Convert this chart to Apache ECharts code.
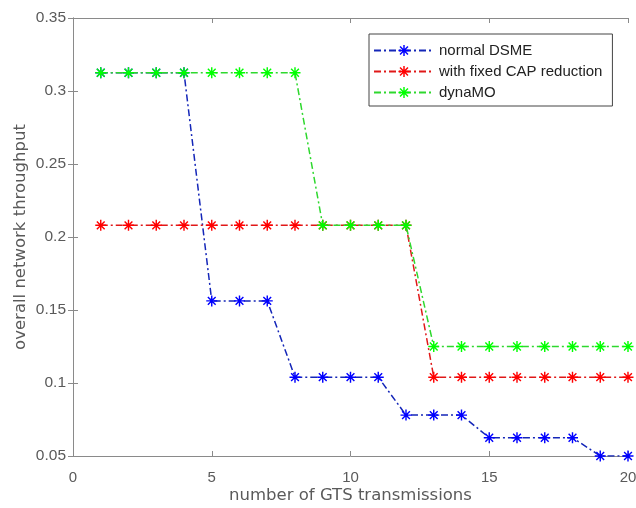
<!DOCTYPE html>
<html>
<head>
<meta charset="utf-8">
<script src="https://cdn.jsdelivr.net/npm/echarts@6/dist/echarts.min.js"></script>
<style>html,body{margin:0;padding:0;background:#fff;}#c{width:636px;height:508px;}</style>
</head>
<body>
<div id="c"></div>
<script>
var xValues = [1,2,3,4,5,6,7,8,9,10,11,12,13,14,15,16,17,18,19,20];
var normalDSME = [0.3125,0.3125,0.3125,0.3125,0.15625,0.15625,0.15625,0.104,0.104,0.104,0.104,0.078,0.078,0.078,0.0625,0.0625,0.0625,0.0625,0.05,0.05];
var fixedCAP = [0.208,0.208,0.208,0.208,0.208,0.208,0.208,0.208,0.208,0.208,0.208,0.208,0.104,0.104,0.104,0.104,0.104,0.104,0.104,0.104];
var dynaMO = [0.3125,0.3125,0.3125,0.3125,0.3125,0.3125,0.3125,0.3125,0.208,0.208,0.208,0.208,0.125,0.125,0.125,0.125,0.125,0.125,0.125,0.125];
var seriesNames = ['normal DSME','with fixed CAP reduction','dynaMO'];
var xTicks = [0,5,10,15,20];
var yTicks = [0.05,0.1,0.15,0.2,0.25,0.3,0.35];

var hw = 1.3;
var star = 'path://' +
  'M-' + hw + ',-10 L' + hw + ',-10 L' + hw + ',10 L-' + hw + ',10 Z ' +
  'M-10,-' + hw + ' L10,-' + hw + ' L10,' + hw + ' L-10,' + hw + ' Z ' +
  'M-6.15,-7.99 L7.99,6.15 L6.15,7.99 L-7.99,-6.15 Z ' +
  'M6.15,-7.99 L7.99,-6.15 L-6.15,7.99 L-7.99,6.15 Z';

function pairs(ys){ return xValues.map(function(x,i){ return [x, ys[i]]; }); }
var font = '"Liberation Sans", Arial, Helvetica, sans-serif';
var nameFont = '"DejaVu Sans", sans-serif';
var axisCol = '#8a8a8a';
var textCol = '#5a5a5a';
var dash = [7,3,2,3];

function mk(name, ys, col, lineCol, z){
  return {
    name: name, type: 'line', data: pairs(ys), z: z,
    symbol: star, symbolSize: 11, showSymbol: true,
    itemStyle: {color: col},
    lineStyle: {color: lineCol, width: 1.5, type: dash},
    emphasis: {disabled: true}, animation: false
  };
}

var chart = echarts.init(document.getElementById('c'));
chart.setOption({
  animation: false,
  backgroundColor: '#ffffff',
  grid: {left: 73, right: 8, top: 18, bottom: 52, containLabel: false, outerBoundsMode: 'none'},
  legend: {
    orient: 'vertical', left: 369, top: 34,
    itemWidth: 60, itemHeight: 14, itemGap: 6,
    padding: [9, 10, 6, 4],
    backgroundColor: '#ffffff', borderColor: '#444444', borderWidth: 1,
    textStyle: {fontFamily: font, fontSize: 15, color: '#222222'},
    data: seriesNames
  },
  xAxis: [{
    type: 'value', min: 0, max: 20, interval: 5,
    name: 'number of GTS transmissions', nameLocation: 'middle', nameGap: 31,
    nameMoveOverlap: false,
    nameTextStyle: {fontFamily: nameFont, fontSize: 16.5, color: textCol},
    axisLine: {show: true, lineStyle: {color: axisCol, width: 1}},
    axisTick: {show: true, inside: true, length: 5, lineStyle: {color: axisCol}},
    axisLabel: {fontFamily: font, fontSize: 15, color: textCol, margin: 14},
    splitLine: {show: false}
  },{
    type: 'value', min: 0, max: 20, interval: 5, position: 'top',
    axisLine: {show: true, lineStyle: {color: axisCol, width: 1}},
    axisTick: {show: true, inside: true, length: 5, lineStyle: {color: axisCol}},
    axisLabel: {show: false}, splitLine: {show: false}
  }],
  yAxis: [{
    type: 'value', min: 0.05, max: 0.35, interval: 0.05,
    name: 'overall network throughput', nameLocation: 'middle', nameGap: 44,
    nameMoveOverlap: false,
    nameTextStyle: {fontFamily: nameFont, fontSize: 16.5, color: textCol},
    axisLine: {show: true, lineStyle: {color: axisCol, width: 1}},
    axisTick: {show: true, inside: true, length: 5, lineStyle: {color: axisCol}},
    axisLabel: {fontFamily: font, fontSize: 15.5, color: textCol, margin: 7,
      formatter: function(v){ return String(parseFloat(v.toFixed(2))); }},
    splitLine: {show: false}
  },{
    type: 'value', min: 0.05, max: 0.35, interval: 0.05, position: 'right',
    axisLine: {show: true, lineStyle: {color: axisCol, width: 1}},
    axisTick: {show: true, inside: true, length: 5, lineStyle: {color: axisCol}},
    axisLabel: {show: false}, splitLine: {show: false}
  }],
  series: [
    mk(seriesNames[0], normalDSME, '#0000ff', '#1426b8', 2),
    mk(seriesNames[1], fixedCAP, '#ff0000', '#e01818', 3),
    mk(seriesNames[2], dynaMO, '#00ff00', '#2ed82e', 4)
  ]
});
</script>
</body>
</html>
